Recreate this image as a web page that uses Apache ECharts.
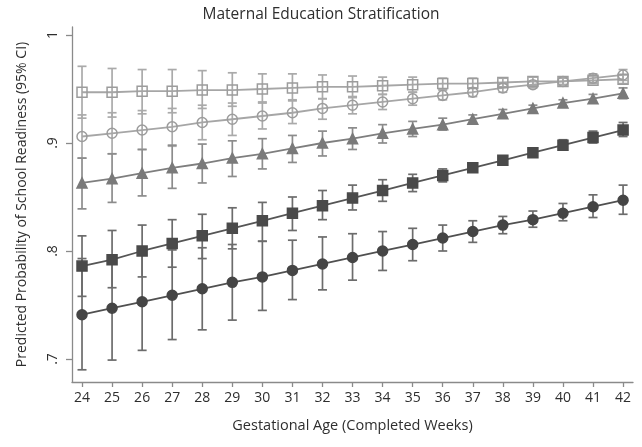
<!DOCTYPE html>
<html>
<head>
<meta charset="utf-8">
<script src="https://cdn.jsdelivr.net/npm/echarts@6/dist/echarts.min.js"></script>
<style>
  html, body { margin: 0; padding: 0; background: #fff; }
  #chart { width: 642px; height: 447px; }
</style>
</head>
<body>
<div id="chart"></div>
<script>
// Gestational age (completed weeks)
const weeks = [24, 25, 26, 27, 28, 29, 30, 31, 32, 33, 34, 35, 36, 37, 38, 39, 40, 41, 42];

// Y-axis tick positions and their printed labels
const yTickValues = [0.7, 0.8, 0.9, 1];
const yTickLabels = ['.7', '.8', '.9', '1'];

// Predicted probability and 95% CI per maternal education level
const level1Mean = [0.741, 0.747, 0.753, 0.759, 0.765, 0.771, 0.776, 0.782, 0.788, 0.794, 0.800, 0.806, 0.812, 0.818, 0.824, 0.829, 0.835, 0.841, 0.847];
const level1Lo   = [0.690, 0.699, 0.708, 0.718, 0.727, 0.736, 0.745, 0.755, 0.764, 0.773, 0.782, 0.791, 0.800, 0.808, 0.816, 0.822, 0.828, 0.831, 0.834];
const level1Hi   = [0.793, 0.796, 0.799, 0.801, 0.803, 0.806, 0.809, 0.810, 0.813, 0.816, 0.818, 0.821, 0.824, 0.828, 0.832, 0.837, 0.844, 0.852, 0.861];

const level2Mean = [0.786, 0.792, 0.800, 0.807, 0.814, 0.821, 0.828, 0.835, 0.842, 0.849, 0.856, 0.863, 0.870, 0.877, 0.884, 0.891, 0.898, 0.905, 0.912];
const level2Lo   = [0.758, 0.766, 0.776, 0.785, 0.793, 0.802, 0.809, 0.819, 0.829, 0.838, 0.846, 0.855, 0.864, 0.873, 0.881, 0.888, 0.894, 0.900, 0.906];
const level2Hi   = [0.814, 0.819, 0.824, 0.829, 0.834, 0.840, 0.845, 0.850, 0.856, 0.861, 0.866, 0.871, 0.876, 0.881, 0.887, 0.895, 0.903, 0.911, 0.919];

const level3Mean = [0.863, 0.867, 0.872, 0.877, 0.881, 0.886, 0.890, 0.895, 0.900, 0.904, 0.909, 0.913, 0.917, 0.922, 0.927, 0.932, 0.937, 0.941, 0.946];
const level3Lo   = [0.839, 0.845, 0.851, 0.858, 0.863, 0.869, 0.876, 0.882, 0.888, 0.894, 0.900, 0.906, 0.912, 0.918, 0.924, 0.929, 0.934, 0.937, 0.941];
const level3Hi   = [0.886, 0.890, 0.894, 0.898, 0.899, 0.902, 0.904, 0.907, 0.911, 0.914, 0.917, 0.920, 0.923, 0.926, 0.931, 0.935, 0.940, 0.945, 0.951];

const level4Mean = [0.906, 0.909, 0.912, 0.915, 0.919, 0.922, 0.925, 0.928, 0.932, 0.935, 0.938, 0.941, 0.944, 0.947, 0.951, 0.954, 0.957, 0.960, 0.963];
const level4Lo   = [0.886, 0.890, 0.894, 0.897, 0.903, 0.907, 0.913, 0.918, 0.922, 0.927, 0.931, 0.935, 0.940, 0.943, 0.947, 0.951, 0.954, 0.956, 0.958];
const level4Hi   = [0.926, 0.928, 0.930, 0.932, 0.935, 0.937, 0.938, 0.940, 0.941, 0.943, 0.945, 0.947, 0.949, 0.951, 0.955, 0.957, 0.960, 0.964, 0.968];

const level5Mean = [0.947, 0.947, 0.948, 0.948, 0.949, 0.949, 0.950, 0.951, 0.952, 0.952, 0.953, 0.954, 0.955, 0.955, 0.956, 0.957, 0.957, 0.958, 0.959];
const level5Lo   = [0.923, 0.924, 0.927, 0.928, 0.932, 0.934, 0.937, 0.939, 0.941, 0.942, 0.945, 0.947, 0.950, 0.951, 0.952, 0.953, 0.954, 0.955, 0.955];
const level5Hi   = [0.971, 0.969, 0.968, 0.968, 0.967, 0.965, 0.964, 0.964, 0.963, 0.962, 0.961, 0.961, 0.960, 0.960, 0.960, 0.961, 0.961, 0.962, 0.963];

const FONT = '"Open Sans", "Noto Sans", sans-serif';
const TEXT = '#2e2e2e';

// Visual style of each education level
const levels = [
  { name: 'Level 1', mean: level1Mean, lo: level1Lo, hi: level1Hi, symbol: 'circle',   size: 10, fill: '#454545', border: '#454545', line: '#505050', bar: '#6c6c6c' },
  { name: 'Level 2', mean: level2Mean, lo: level2Lo, hi: level2Hi, symbol: 'rect',     size: 10, fill: '#4a4a4a', border: '#4a4a4a', line: '#555555', bar: '#6c6c6c' },
  { name: 'Level 3', mean: level3Mean, lo: level3Lo, hi: level3Hi, symbol: 'triangle', size: 10, fill: '#7a7a7a', border: '#7a7a7a', line: '#7e7e7e', bar: '#8c8c8c' },
  { name: 'Level 4', mean: level4Mean, lo: level4Lo, hi: level4Hi, symbol: 'circle',   size: 10, fill: 'rgba(0,0,0,0)', border: '#9c9c9c', line: '#a6a6a6', bar: '#aaaaaa' },
  { name: 'Level 5', mean: level5Mean, lo: level5Lo, hi: level5Hi, symbol: 'rect',     size: 10, fill: 'rgba(0,0,0,0)', border: '#9c9c9c', line: '#a6a6a6', bar: '#aaaaaa' }
];

function errorBarSeries(lv) {
  return {
    type: 'custom',
    name: lv.name + ' CI',
    z: 1,
    silent: true,
    data: weeks.map((w, i) => [w, lv.lo[i], lv.hi[i]]),
    renderItem: function (params, api) {
      const x = api.value(0);
      const pLo = api.coord([x, api.value(1)]);
      const pHi = api.coord([x, api.value(2)]);
      const hw = 4.5;
      const style = { stroke: lv.bar, lineWidth: 1.7, fill: null };
      return {
        type: 'group',
        children: [
          { type: 'line', shape: { x1: pLo[0], y1: pLo[1], x2: pHi[0], y2: pHi[1] }, style: style },
          { type: 'line', shape: { x1: pLo[0] - hw, y1: pLo[1], x2: pLo[0] + hw, y2: pLo[1] }, style: style },
          { type: 'line', shape: { x1: pHi[0] - hw, y1: pHi[1], x2: pHi[0] + hw, y2: pHi[1] }, style: style }
        ]
      };
    }
  };
}

function lineSeries(lv) {
  return {
    type: 'line',
    name: lv.name,
    z: 3,
    data: weeks.map((w, i) => [w, lv.mean[i]]),
    symbol: lv.symbol,
    symbolSize: lv.size,
    showAllSymbol: true,
    lineStyle: { color: lv.line, width: 1.8 },
    itemStyle: { color: lv.fill, borderColor: lv.border, borderWidth: 1.5 },
    emphasis: { disabled: true },
    animation: false
  };
}

const series = [];
levels.slice().reverse().forEach(lv => series.push(errorBarSeries(lv)));
levels.slice().reverse().forEach(lv => series.push(lineSeries(lv)));

const chart = echarts.init(document.getElementById('chart'), null, { renderer: 'canvas' });
chart.setOption({
  backgroundColor: '#ffffff',
  animation: false,
  title: {
    text: 'Maternal Education Stratification',
    left: 'center',
    top: 2,
    textStyle: { fontFamily: FONT, fontSize: 15.5, fontWeight: 'normal', color: TEXT }
  },
  grid: { left: 72, right: 9, top: 27, bottom: 65 },
  xAxis: {
    type: 'value',
    min: 23.667,
    max: 42.33,
    name: 'Gestational Age (Completed Weeks)',
    nameLocation: 'middle',
    nameGap: 36,
    nameTextStyle: { fontFamily: FONT, fontSize: 14.5, color: TEXT },
    axisLine: { show: true, lineStyle: { color: '#8a8a8a', width: 1.3 } },
    axisTick: { show: true, customValues: weeks, length: 5, lineStyle: { color: '#8a8a8a', width: 1.3 } },
    axisLabel: { customValues: weeks, margin: 9, fontFamily: FONT, fontSize: 14, color: TEXT },
    splitLine: { show: false }
  },
  yAxis: {
    type: 'value',
    min: 0.6787,
    max: 1.0074,
    name: 'Predicted Probability of School Readiness (95% CI)',
    nameLocation: 'middle',
    nameGap: 43,
    nameRotate: 90,
    nameTextStyle: { fontFamily: FONT, fontSize: 14, color: TEXT },
    axisLine: { show: true, lineStyle: { color: '#8a8a8a', width: 1.3 } },
    axisTick: { show: true, customValues: yTickValues, length: 6, lineStyle: { color: '#8a8a8a', width: 1.3 } },
    axisLabel: {
      customValues: yTickValues,
      rotate: 90,
      margin: 12,
      fontFamily: FONT,
      fontSize: 14,
      color: TEXT,
      formatter: function (v) {
        const i = yTickValues.findIndex(t => Math.abs(t - v) < 1e-9);
        return i >= 0 ? yTickLabels[i] : '';
      }
    },
    splitLine: { show: false }
  },
  series: series
});
</script>
</body>
</html>
